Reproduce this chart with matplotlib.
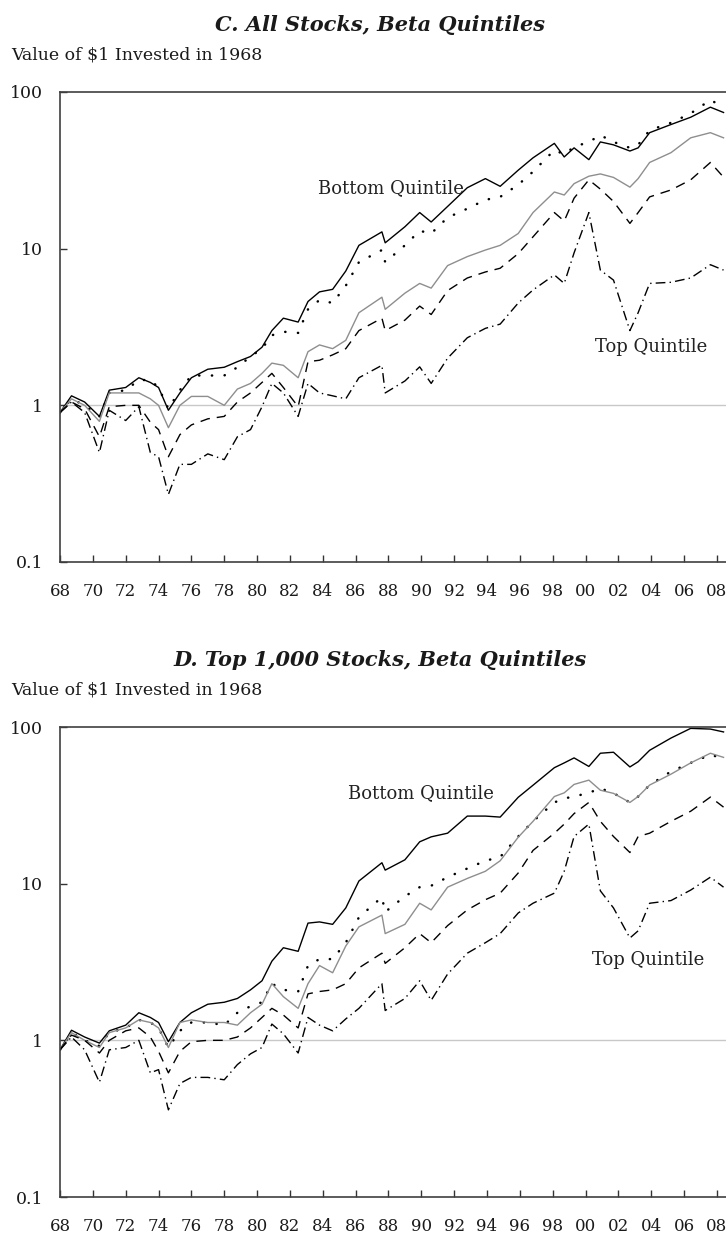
import matplotlib
matplotlib.use("Agg")
import matplotlib.pyplot as plt

# ---------- sample dates (fractional years), shared by both panels ----------
YEARS = [1968.0, 1968.7, 1969.5, 1970.4, 1971.0, 1972.0, 1972.8, 1973.5, 1974.0, 1974.6,
         1975.3, 1976.0, 1977.0, 1978.0, 1978.8, 1979.6, 1980.3, 1980.9, 1981.6, 1982.5,
         1983.1, 1983.8, 1984.6, 1985.4, 1986.2, 1987.6, 1987.8, 1989.0, 1989.9, 1990.6,
         1991.6, 1992.8, 1993.9, 1994.8, 1995.9, 1996.8, 1998.1, 1998.7, 1999.3, 2000.2,
         2000.9, 2001.7, 2002.7, 2003.2, 2003.9, 2005.2, 2006.4, 2007.6, 2008.4]

# ---------- C. All stocks ----------
C_Q1 = [0.9, 1.15, 1.05, 0.85, 1.25, 1.3, 1.5, 1.4, 1.3, 0.93,
        1.2, 1.5, 1.7, 1.75, 1.9, 2.05, 2.35, 3.0, 3.6, 3.4,
        4.6, 5.3, 5.5, 7.2, 10.5, 12.8, 10.9, 13.8, 17.0, 14.8,
        18.6, 24.5, 28.0, 25.0, 31.7, 38.0, 47.0, 38.5, 44.0, 37.0,
        48.0, 46.0, 42.0, 44.0, 55.0, 62.0, 69.0, 80.0, 74.0]
C_Q2 = [0.9, 1.1, 1.0, 0.85, 1.2, 1.25, 1.45, 1.45, 1.3, 0.95,
        1.25, 1.55, 1.55, 1.55, 1.75, 2.05, 2.3, 2.8, 2.95, 2.9,
        4.1, 4.7, 4.5, 5.8, 8.2, 9.8, 8.2, 10.5, 13.0, 12.5,
        15.8, 18.0, 20.5, 21.4, 25.6, 31.0, 42.6, 40.0, 44.6, 48.0,
        53.0, 48.0, 44.0, 46.0, 57.0, 63.6, 73.0, 89.0, 80.0]
C_Q3 = [0.9, 1.1, 1.0, 0.79, 1.2, 1.2, 1.2, 1.1, 1.0, 0.72,
        1.0, 1.14, 1.14, 1.0, 1.27, 1.38, 1.6, 1.86, 1.8, 1.5,
        2.2, 2.43, 2.3, 2.6, 3.9, 4.9, 4.1, 5.2, 6.0, 5.6,
        7.8, 8.9, 9.8, 10.5, 12.5, 17.0, 23.0, 22.0, 26.0, 29.0,
        30.0, 28.5, 24.7, 28.0, 35.5, 41.0, 51.0, 55.0, 51.0]
C_Q4 = [0.9, 1.05, 0.95, 0.63, 0.98, 1.0, 1.0, 0.78, 0.7, 0.47,
        0.65, 0.75, 0.82, 0.85, 1.05, 1.2, 1.4, 1.6, 1.3, 0.98,
        1.9, 1.94, 2.1, 2.3, 3.0, 3.6, 3.0, 3.5, 4.3, 3.8,
        5.4, 6.5, 7.1, 7.5, 9.3, 11.9, 17.0, 15.0, 21.0, 27.5,
        24.0, 20.0, 14.5, 17.0, 21.4, 23.7, 27.5, 35.5, 28.6]
C_Q5 = [0.9, 1.05, 0.9, 0.5, 0.93, 0.8, 0.98, 0.5, 0.47, 0.27,
        0.42, 0.42, 0.49, 0.45, 0.63, 0.7, 0.98, 1.38, 1.2, 0.85,
        1.38, 1.2, 1.15, 1.1, 1.5, 1.8, 1.2, 1.43, 1.76, 1.38,
        2.0, 2.7, 3.1, 3.3, 4.5, 5.45, 6.8, 6.0, 9.4, 17.0,
        7.3, 6.3, 3.0, 3.9, 6.0, 6.1, 6.5, 7.9, 7.3]

# ---------- D. Top 1,000 stocks ----------
D_Q1 = [0.87, 1.16, 1.05, 0.96, 1.15, 1.25, 1.5, 1.4, 1.3, 0.98,
        1.3, 1.5, 1.7, 1.75, 1.85, 2.1, 2.4, 3.2, 3.9, 3.7,
        5.6, 5.7, 5.5, 7.0, 10.4, 13.6, 12.2, 14.2, 18.5, 19.9,
        21.0, 27.0, 27.0, 26.6, 35.6, 42.5, 55.0, 59.0, 63.5, 56.0,
        68.0, 69.0, 55.6, 60.0, 71.0, 85.0, 98.0, 97.0, 93.0]
D_Q2 = [0.87, 1.12, 1.0, 0.92, 1.12, 1.2, 1.35, 1.3, 1.2, 0.9,
        1.15, 1.3, 1.3, 1.25, 1.5, 1.65, 1.75, 2.3, 2.1, 2.05,
        3.0, 3.3, 3.3, 4.2, 6.1, 8.2, 6.6, 8.3, 9.5, 9.7,
        11.0, 12.5, 14.0, 14.8, 20.0, 25.0, 33.0, 35.0, 36.0, 38.0,
        40.6, 37.8, 33.0, 36.0, 42.6, 52.0, 59.0, 66.5, 63.0]
D_Q3 = [0.87, 1.12, 1.0, 0.9, 1.12, 1.2, 1.35, 1.3, 1.2, 0.9,
        1.3, 1.35, 1.3, 1.3, 1.25, 1.5, 1.7, 2.3, 1.9, 1.6,
        2.3, 3.0, 2.7, 4.0, 5.3, 6.3, 4.8, 5.5, 7.5, 6.8,
        9.5, 10.8, 12.0, 14.0, 19.8, 25.0, 36.0, 38.0, 43.0, 45.8,
        39.5, 37.7, 33.0, 36.0, 42.6, 50.0, 59.0, 68.0, 64.0]
D_Q4 = [0.87, 1.08, 1.0, 0.83, 1.0, 1.15, 1.2, 1.05, 0.85, 0.62,
        0.85, 0.98, 1.0, 1.0, 1.05, 1.2, 1.4, 1.6, 1.45, 1.2,
        1.98, 2.05, 2.1, 2.3, 2.9, 3.6, 3.1, 3.9, 4.8, 4.2,
        5.4, 6.8, 7.9, 8.7, 11.7, 16.3, 21.0, 24.0, 28.0, 33.0,
        25.0, 20.0, 15.8, 20.0, 21.0, 25.0, 29.0, 35.7, 30.8]
D_Q5 = [0.87, 1.05, 0.87, 0.54, 0.87, 0.9, 1.0, 0.62, 0.65, 0.36,
        0.53, 0.58, 0.58, 0.56, 0.7, 0.82, 0.9, 1.27, 1.1, 0.83,
        1.4, 1.25, 1.15, 1.37, 1.6, 2.3, 1.55, 1.85, 2.4, 1.8,
        2.65, 3.6, 4.2, 4.8, 6.5, 7.5, 8.7, 12.0, 20.0, 24.0,
        9.0, 7.0, 4.5, 5.0, 7.5, 7.8, 9.1, 11.0, 9.5]

X_TICKS = list(range(1968, 2009, 2))
X_LABELS = [f"{y % 100:02d}" for y in X_TICKS]
Y_TICKS = [0.1, 1, 10, 100]
Y_LABELS = ["0.1", "1", "10", "100"]

FONT = ["DejaVu Serif"]
W, H = 726, 1236

plt.rcParams['font.family'] = FONT

# line styles: bottom .. top quintile
STYLES = [
    dict(color="black", lw=1.0, ls="-"),
    dict(color="black", lw=1.8, ls=(0, (0.1, 5.0)), dash_capstyle="round"),
    dict(color="#8e8e8e", lw=1.0, ls="-"),
    dict(color="black", lw=1.0, ls=(0, (7, 5))),
    dict(color="black", lw=1.0, ls=(0, (7, 3, 1, 3))),
]


def px(x, y):
    # pixel position -> figure fraction
    return x / W, 1 - y / H


def draw_panel(fig, top, title, series, bottom_lbl, top_lbl):
    ax = fig.add_axes([60 / W, 1 - (top + 470) / H, 666 / W, 470 / H])
    ax.set_yscale("log")
    ax.set_xlim(1968, 2008.55)
    ax.set_ylim(0.1, 100)

    ax.axhline(1, color="#c8c8c8", lw=1.0, zorder=1)
    for vals, st in zip(series, STYLES):
        ax.plot(YEARS, vals, zorder=2, **st)

    ax.set_xticks(X_TICKS)
    ax.set_xticklabels(X_LABELS)
    ax.set_yticks(Y_TICKS)
    ax.set_yticklabels(Y_LABELS)
    ax.minorticks_off()
    ax.tick_params(axis="x", direction="in", length=5, width=1, color="#333333",
                   labelsize=12, labelcolor="#1a1a1a", pad=15)
    ax.tick_params(axis="y", direction="in", length=5, width=1, color="#333333",
                   labelsize=12.5, labelcolor="#1a1a1a", pad=12)
    ax.spines["right"].set_visible(False)
    for s in ("left", "bottom", "top"):
        ax.spines[s].set_color("#404040")
        ax.spines[s].set_linewidth(1.2)

    ax.text(bottom_lbl[0], bottom_lbl[1], "Bottom Quintile", fontsize=13,
            ha="center", va="center", color="#222222")
    ax.text(top_lbl[0], top_lbl[1], "Top Quintile", fontsize=13,
            ha="center", va="center", color="#222222")

    fig.text(*px(380, top - 67), title, fontsize=15, fontweight="bold",
             fontstyle="italic", ha="center", va="center", color="#1a1a1a")
    fig.text(*px(11, top - 37), "Value of $1 Invested in 1968", fontsize=12.5,
             ha="left", va="center", color="#1a1a1a")
    return ax


fig = plt.figure(figsize=(W / 100, H / 100), dpi=100)
draw_panel(fig, 92, "C. All Stocks, Beta Quintiles",
           [C_Q1, C_Q2, C_Q3, C_Q4, C_Q5], (1988.15, 24.4), (2004.0, 2.36))
draw_panel(fig, 727, "D. Top 1,000 Stocks, Beta Quintiles",
           [D_Q1, D_Q2, D_Q3, D_Q4, D_Q5], (1990.0, 37.9), (2003.8, 3.26))
fig.savefig("out.png", dpi=100)
